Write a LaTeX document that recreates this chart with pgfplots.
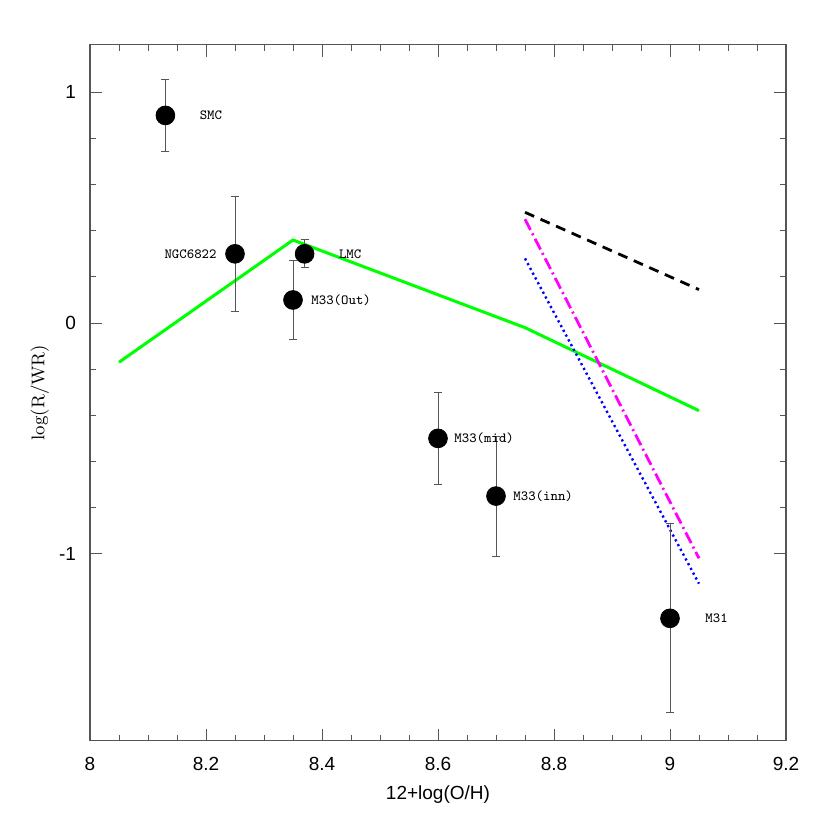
\documentclass[border=0pt]{standalone}
\usepackage{fontspec}
\usepackage{pgfplots}
\pgfplotsset{compat=1.18}
\newfontfamily\helv{Liberation Sans}
\definecolor{framegray}{RGB}{85,85,85}
\definecolor{lgreen}{RGB}{0,255,0}
\definecolor{lmagenta}{RGB}{255,0,255}
\definecolor{lblue}{RGB}{0,0,255}

\begin{document}
\begin{tikzpicture}
\begin{axis}[
    name=ax,
    scale only axis,
    width=348pt,
    height=348pt,
    xmin=8, xmax=9.2,
    ymin=-1.81, ymax=1.207,
    xtick={8,8.2,...,9.2},
    ytick={-1,0,1},
    xticklabels={8,8.2,8.4,8.6,8.8,9,9.2},
    minor x tick num=3,
    minor y tick num=4,
    tick align=inside,
    major tick length=6pt,
    minor tick length=3pt,
    axis line style={framegray, line width=0.6pt},
    tick style={framegray, line width=0.5pt},
    ticklabel style={font=\helv\fontsize{9.5}{11}\selectfont},
    /pgf/number format/assume math mode=true,
    xticklabel style={yshift=-5pt},
    yticklabel style={xshift=-3.5pt},
    xlabel={12+log(O/H)},
    xlabel style={font=\helv\fontsize{9.5}{11}\selectfont, at={(axis description cs:0.5,-0.0776)}, anchor=center},
    ylabel={log(R/WR)},
    ylabel style={font=\fontsize{9.2}{11}\selectfont, at={(axis description cs:-0.072,0.5)}, anchor=center},
    clip=false,
]
% model curves
\addplot[lgreen, line width=1.5pt] coordinates {
    (8.05,-0.17) (8.35,0.36) (8.75,-0.02) (9.05,-0.38)
};
\addplot[black, line width=1.4pt, dash pattern=on 5pt off 3.5pt] coordinates {
    (8.75,0.48) (9.05,0.145)
};
\addplot[lmagenta, line width=1.4pt, dash pattern=on 6pt off 2pt on 1pt off 2pt] coordinates {
    (8.75,0.45) (9.05,-1.02)
};
\addplot[lblue, line width=1.2pt, dash pattern=on 1.1pt off 1.6pt] coordinates {
    (8.75,0.28) (9.05,-1.13)
};
% observed points
\addplot[only marks, mark=*, mark size=4.7pt, black,
    error bars/.cd, y dir=both, y explicit,
    error bar style={framegray, line width=0.5pt},
    error mark options={rotate=90, mark size=2pt, framegray, line width=0.5pt}]
coordinates {
    (8.13,0.90) +- (0,0.155)
    (8.25,0.30) +- (0,0.25)
    (8.37,0.30) +- (0,0.06)
    (8.35,0.10) +- (0,0.17)
    (8.60,-0.50) +- (0,0.20)
    (8.70,-0.75) +- (0,0.26)
    (9.00,-1.28) +- (0,0.41)
};
\begin{scope}[every node/.style={font=\ttfamily\fontsize{7}{8}\selectfont, inner sep=0pt}]
\node[anchor=west] at ([xshift=17pt]axis cs:8.13,0.90) {SMC};
\node[anchor=east] at ([xshift=-9pt]axis cs:8.25,0.30) {NGC6822};
\node[anchor=west] at ([xshift=17pt]axis cs:8.37,0.30) {LMC};
\node[anchor=west] at ([xshift=9pt]axis cs:8.35,0.10) {M33(Out)};
\node[anchor=west] at ([xshift=8pt]axis cs:8.60,-0.50) {M33(mid)};
\node[anchor=west] at ([xshift=8.5pt]axis cs:8.70,-0.75) {M33(inn)};
\node[anchor=west] at ([xshift=17.5pt]axis cs:9.00,-1.28) {M31};
\end{scope}
\end{axis}
\path ([xshift=-45pt,yshift=-44.5pt]ax.south west) rectangle ([xshift=22pt,yshift=22.3pt]ax.north east);
\end{tikzpicture}
\end{document}
